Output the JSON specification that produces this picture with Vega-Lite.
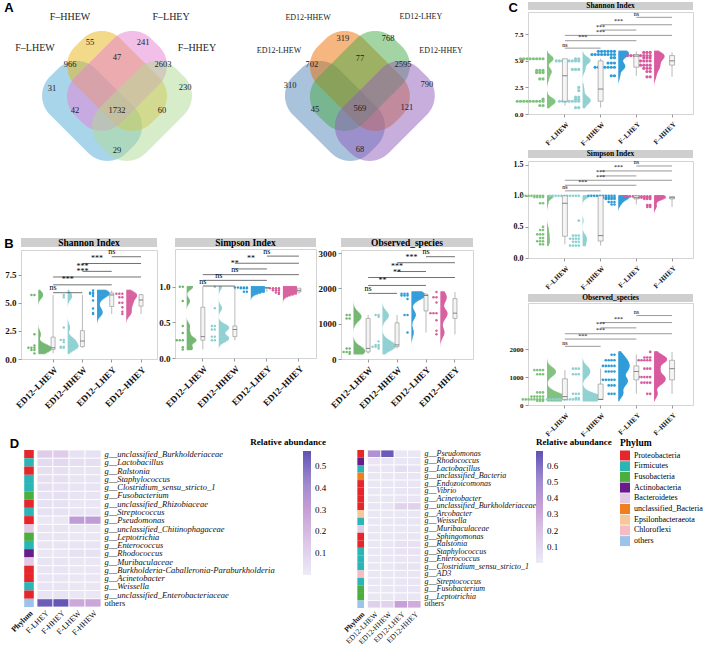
{
  "$schema": "https://vega.github.io/schema/vega-lite/v6.json",
  "background": "white",
  "padding": {"left": 4, "top": 2, "right": 2, "bottom": 0},
  "config": {
    "font": "Liberation Serif",
    "view": {"stroke": "#d4d4d4"},
    "axis": {"labelFont": "Liberation Serif", "labelFontWeight": "bold", "labelColor": "#111", "grid": false, "domain": false, "tickColor": "#999", "tickSize": 3, "labelPadding": 2},
    "legend": {"labelFont": "Liberation Serif", "titleFont": "Liberation Serif"},
    "title": {"font": "Liberation Sans", "fontSize": 13, "fontWeight": "bold", "anchor": "start", "offset": -13, "color": "#000"},
    "text": {"font": "Liberation Serif"}
  },
  "datasets": {
    "vLs": [
      {"set": "F–LHEW", "cx": 36.3, "cy": 39.6, "lx": 12.5, "ly": 13.3},
      {"set": "F–HHEW", "cx": 46.7, "cy": 27.1, "lx": 27.1, "ly": 0.6},
      {"set": "F–LHEY", "cx": 46.7, "cy": 27.1, "lx": 69.2, "ly": 0.6},
      {"set": "F–HHEY", "cx": 57.1, "cy": 39.6, "lx": 80.0, "ly": 13.3}
    ],
    "vLn": [
      {"n": 55, "x": 35.4, "y": 10.8}, {"n": 241, "x": 57.5, "y": 10.8}, {"n": 966, "x": 27.1, "y": 20},
      {"n": 47, "x": 46.7, "y": 17.1}, {"n": 2603, "x": 65.8, "y": 20}, {"n": 31, "x": 19.6, "y": 30},
      {"n": 230, "x": 75, "y": 29.6}, {"n": 42, "x": 29.2, "y": 39.2}, {"n": 1732, "x": 46.7, "y": 39.2},
      {"n": 60, "x": 65.4, "y": 39.2}, {"n": 29, "x": 46.7, "y": 55.8}
    ],
    "vRs": [
      {"set": "ED12-LHEW", "cx": 35.4, "cy": 39.6, "lx": 12.1, "ly": 14.6},
      {"set": "ED12-HHEW", "cx": 45.8, "cy": 27.1, "lx": 24.2, "ly": 0.8},
      {"set": "ED12-LHEY", "cx": 45.8, "cy": 27.1, "lx": 71.2, "ly": 0.6},
      {"set": "ED12-HHEY", "cx": 56.2, "cy": 39.6, "lx": 79.6, "ly": 14.6}
    ],
    "vRn": [
      {"n": 319, "x": 38.7, "y": 9.2}, {"n": 768, "x": 57.5, "y": 9.2}, {"n": 702, "x": 25.8, "y": 20},
      {"n": 77, "x": 45.8, "y": 17.5}, {"n": 2595, "x": 63.7, "y": 20}, {"n": 310, "x": 16.7, "y": 28.7},
      {"n": 790, "x": 73.7, "y": 28.3}, {"n": 45, "x": 27.1, "y": 38.7}, {"n": 569, "x": 45.8, "y": 38.3},
      {"n": 121, "x": 65.4, "y": 37.9}, {"n": 68, "x": 45.8, "y": 55.4}
    ],
    "br": [
      {"m": "BSh", "a": "LHEW", "b": "HHEW", "s": 1, "y": 5.9, "l": "ns"},
      {"m": "BSh", "a": "LHEW", "b": "LHEY", "s": 2, "y": 6.6, "l": "***"},
      {"m": "BSh", "a": "LHEW", "b": "HHEY", "s": 3, "y": 7.3, "l": "***"},
      {"m": "BSh", "a": "HHEW", "b": "LHEY", "s": 1, "y": 7.8, "l": "***"},
      {"m": "BSh", "a": "HHEW", "b": "HHEY", "s": 2, "y": 8.5, "l": "***"},
      {"m": "BSh", "a": "LHEY", "b": "HHEY", "s": 1, "y": 9.1, "l": "ns"},
      {"m": "BSi", "a": "LHEW", "b": "HHEW", "s": 1, "y": 1.01, "l": "ns"},
      {"m": "BSi", "a": "LHEW", "b": "LHEY", "s": 2, "y": 1.09, "l": "ns"},
      {"m": "BSi", "a": "LHEW", "b": "HHEY", "s": 3, "y": 1.17, "l": "ns"},
      {"m": "BSi", "a": "HHEW", "b": "LHEY", "s": 1, "y": 1.25, "l": "**"},
      {"m": "BSi", "a": "HHEW", "b": "HHEY", "s": 2, "y": 1.33, "l": "**"},
      {"m": "BSi", "a": "LHEY", "b": "HHEY", "s": 1, "y": 1.43, "l": "ns"},
      {"m": "BOb", "a": "LHEW", "b": "HHEW", "s": 1, "y": 1860, "l": "ns"},
      {"m": "BOb", "a": "LHEW", "b": "LHEY", "s": 2, "y": 2085, "l": "**"},
      {"m": "BOb", "a": "LHEW", "b": "HHEY", "s": 3, "y": 2310, "l": "**"},
      {"m": "BOb", "a": "HHEW", "b": "LHEY", "s": 1, "y": 2480, "l": "***"},
      {"m": "BOb", "a": "HHEW", "b": "HHEY", "s": 2, "y": 2730, "l": "***"},
      {"m": "BOb", "a": "LHEY", "b": "HHEY", "s": 1, "y": 2900, "l": "ns"},
      {"m": "CSh", "a": "LHEW", "b": "HHEW", "s": 1, "y": 6.2, "l": "ns"},
      {"m": "CSh", "a": "LHEW", "b": "LHEY", "s": 2, "y": 6.9, "l": "***"},
      {"m": "CSh", "a": "LHEW", "b": "HHEY", "s": 3, "y": 7.4, "l": "***"},
      {"m": "CSh", "a": "HHEW", "b": "LHEY", "s": 1, "y": 7.9, "l": "***"},
      {"m": "CSh", "a": "HHEW", "b": "HHEY", "s": 2, "y": 8.4, "l": "***"},
      {"m": "CSh", "a": "LHEY", "b": "HHEY", "s": 1, "y": 9.1, "l": "ns"},
      {"m": "CSi", "a": "LHEW", "b": "HHEW", "s": 1, "y": 1.08, "l": "ns"},
      {"m": "CSi", "a": "LHEW", "b": "LHEY", "s": 2, "y": 1.17, "l": "***"},
      {"m": "CSi", "a": "LHEW", "b": "HHEY", "s": 3, "y": 1.25, "l": "***"},
      {"m": "CSi", "a": "HHEW", "b": "LHEY", "s": 1, "y": 1.32, "l": "***"},
      {"m": "CSi", "a": "HHEW", "b": "HHEY", "s": 2, "y": 1.4, "l": "***"},
      {"m": "CSi", "a": "LHEY", "b": "HHEY", "s": 1, "y": 1.48, "l": "ns"},
      {"m": "COb", "a": "LHEW", "b": "HHEW", "s": 1, "y": 2100, "l": "ns"},
      {"m": "COb", "a": "LHEW", "b": "LHEY", "s": 2, "y": 2360, "l": "***"},
      {"m": "COb", "a": "LHEW", "b": "HHEY", "s": 3, "y": 2550, "l": "***"},
      {"m": "COb", "a": "HHEW", "b": "LHEY", "s": 1, "y": 2760, "l": "***"},
      {"m": "COb", "a": "HHEW", "b": "HHEY", "s": 2, "y": 2950, "l": "***"},
      {"m": "COb", "a": "LHEY", "b": "HHEY", "s": 1, "y": 3200, "l": "ns"}
    ],
    "rc": [
      {"m":"BSh","g":"LHEW","v":5.7},{"m":"BSh","g":"LHEW","v":5.7},{"m":"BSh","g":"LHEW","v":2.2},{"m":"BSh","g":"LHEW","v":1.2},{"m":"BSh","g":"LHEW","v":1.0},{"m":"BSh","g":"LHEW","v":1.0},{"m":"BSh","g":"LHEW","v":1.0},{"m":"BSh","g":"LHEW","v":0.8},{"m":"BSh","g":"LHEW","v":0.8},{"m":"BSh","g":"LHEW","v":0.5},
      {"m":"BSh","g":"HHEW","v":5.7},{"m":"BSh","g":"HHEW","v":5.5},{"m":"BSh","g":"HHEW","v":2.8},{"m":"BSh","g":"HHEW","v":1.7},{"m":"BSh","g":"HHEW","v":1.7},{"m":"BSh","g":"HHEW","v":1.5},{"m":"BSh","g":"HHEW","v":1.1},{"m":"BSh","g":"HHEW","v":1.1},{"m":"BSh","g":"HHEW","v":1.0},{"m":"BSh","g":"HHEW","v":1.0},
      {"m":"BSh","g":"LHEY","v":6.1},{"m":"BSh","g":"LHEY","v":5.9},{"m":"BSh","g":"LHEY","v":5.9},{"m":"BSh","g":"LHEY","v":5.8},{"m":"BSh","g":"LHEY","v":5.8},{"m":"BSh","g":"LHEY","v":5.6},{"m":"BSh","g":"LHEY","v":5.2},{"m":"BSh","g":"LHEY","v":4.5},{"m":"BSh","g":"LHEY","v":4.1},{"m":"BSh","g":"LHEY","v":4.0},
      {"m":"BSh","g":"HHEY","v":5.8},{"m":"BSh","g":"HHEY","v":5.8},{"m":"BSh","g":"HHEY","v":5.8},{"m":"BSh","g":"HHEY","v":5.5},{"m":"BSh","g":"HHEY","v":5.5},{"m":"BSh","g":"HHEY","v":5.0},{"m":"BSh","g":"HHEY","v":5.0},{"m":"BSh","g":"HHEY","v":4.6},{"m":"BSh","g":"HHEY","v":4.2},{"m":"BSh","g":"HHEY","v":4.0},
      {"m":"BSi","g":"LHEW","v":1.0},{"m":"BSi","g":"LHEW","v":1.0},{"m":"BSi","g":"LHEW","v":0.8},{"m":"BSi","g":"LHEW","v":0.45},{"m":"BSi","g":"LHEW","v":0.35},{"m":"BSi","g":"LHEW","v":0.25},{"m":"BSi","g":"LHEW","v":0.25},{"m":"BSi","g":"LHEW","v":0.25},{"m":"BSi","g":"LHEW","v":0.15},{"m":"BSi","g":"LHEW","v":0.12},
      {"m":"BSi","g":"HHEW","v":1.0},{"m":"BSi","g":"HHEW","v":0.7},{"m":"BSi","g":"HHEW","v":0.45},{"m":"BSi","g":"HHEW","v":0.45},{"m":"BSi","g":"HHEW","v":0.4},{"m":"BSi","g":"HHEW","v":0.4},{"m":"BSi","g":"HHEW","v":0.3},{"m":"BSi","g":"HHEW","v":0.3},{"m":"BSi","g":"HHEW","v":0.25},{"m":"BSi","g":"HHEW","v":0.25},
      {"m":"BSi","g":"LHEY","v":0.99},{"m":"BSi","g":"LHEY","v":0.99},{"m":"BSi","g":"LHEY","v":0.99},{"m":"BSi","g":"LHEY","v":0.99},{"m":"BSi","g":"LHEY","v":0.99},{"m":"BSi","g":"LHEY","v":0.98},{"m":"BSi","g":"LHEY","v":0.98},{"m":"BSi","g":"LHEY","v":0.98},{"m":"BSi","g":"LHEY","v":0.93},{"m":"BSi","g":"LHEY","v":0.93},
      {"m":"BSi","g":"HHEY","v":0.98},{"m":"BSi","g":"HHEY","v":0.98},{"m":"BSi","g":"HHEY","v":0.98},{"m":"BSi","g":"HHEY","v":0.98},{"m":"BSi","g":"HHEY","v":0.95},{"m":"BSi","g":"HHEY","v":0.95},{"m":"BSi","g":"HHEY","v":0.95},{"m":"BSi","g":"HHEY","v":0.92},{"m":"BSi","g":"HHEY","v":0.92},{"m":"BSi","g":"HHEY","v":0.9},
      {"m":"BOb","g":"LHEW","v":1250},{"m":"BOb","g":"LHEW","v":1250},{"m":"BOb","g":"LHEW","v":1150},{"m":"BOb","g":"LHEW","v":1150},{"m":"BOb","g":"LHEW","v":300},{"m":"BOb","g":"LHEW","v":300},{"m":"BOb","g":"LHEW","v":200},{"m":"BOb","g":"LHEW","v":200},{"m":"BOb","g":"LHEW","v":200},{"m":"BOb","g":"LHEW","v":150},
      {"m":"BOb","g":"HHEW","v":1250},{"m":"BOb","g":"HHEW","v":1250},{"m":"BOb","g":"HHEW","v":1200},{"m":"BOb","g":"HHEW","v":500},{"m":"BOb","g":"HHEW","v":400},{"m":"BOb","g":"HHEW","v":400},{"m":"BOb","g":"HHEW","v":350},{"m":"BOb","g":"HHEW","v":350},{"m":"BOb","g":"HHEW","v":350},{"m":"BOb","g":"HHEW","v":300},
      {"m":"BOb","g":"LHEY","v":1850},{"m":"BOb","g":"LHEY","v":1850},{"m":"BOb","g":"LHEY","v":1850},{"m":"BOb","g":"LHEY","v":1800},{"m":"BOb","g":"LHEY","v":1800},{"m":"BOb","g":"LHEY","v":1800},{"m":"BOb","g":"LHEY","v":1700},{"m":"BOb","g":"LHEY","v":1250},{"m":"BOb","g":"LHEY","v":1250},{"m":"BOb","g":"LHEY","v":750},
      {"m":"BOb","g":"HHEY","v":1900},{"m":"BOb","g":"HHEY","v":1750},{"m":"BOb","g":"HHEY","v":1750},{"m":"BOb","g":"HHEY","v":1600},{"m":"BOb","g":"HHEY","v":1300},{"m":"BOb","g":"HHEY","v":1300},{"m":"BOb","g":"HHEY","v":1300},{"m":"BOb","g":"HHEY","v":1100},{"m":"BOb","g":"HHEY","v":800},{"m":"BOb","g":"HHEY","v":700},
      {"m":"CSh","g":"LHEW","v":5.2},{"m":"CSh","g":"LHEW","v":5.2},{"m":"CSh","g":"LHEW","v":5.2},{"m":"CSh","g":"LHEW","v":5.2},{"m":"CSh","g":"LHEW","v":5.2},{"m":"CSh","g":"LHEW","v":5.2},{"m":"CSh","g":"LHEW","v":5.2},{"m":"CSh","g":"LHEW","v":5.2},
      {"m":"CSh","g":"LHEW","v":4.1},{"m":"CSh","g":"LHEW","v":4.1},{"m":"CSh","g":"LHEW","v":4.1},{"m":"CSh","g":"LHEW","v":3.9},{"m":"CSh","g":"LHEW","v":3.9},{"m":"CSh","g":"LHEW","v":3.9},{"m":"CSh","g":"LHEW","v":3.3},{"m":"CSh","g":"LHEW","v":3.3},{"m":"CSh","g":"LHEW","v":1.4},
      {"m":"CSh","g":"LHEW","v":1.2},{"m":"CSh","g":"LHEW","v":1.2},{"m":"CSh","g":"LHEW","v":1.2},{"m":"CSh","g":"LHEW","v":1.2},{"m":"CSh","g":"LHEW","v":1.2},{"m":"CSh","g":"LHEW","v":1.2},{"m":"CSh","g":"LHEW","v":1.2},{"m":"CSh","g":"LHEW","v":1.2},{"m":"CSh","g":"LHEW","v":1.2},{"m":"CSh","g":"LHEW","v":0.8},{"m":"CSh","g":"LHEW","v":0.8},
      {"m":"CSh","g":"HHEW","v":5.2},{"m":"CSh","g":"HHEW","v":5.2},{"m":"CSh","g":"HHEW","v":5.0},{"m":"CSh","g":"HHEW","v":5.0},{"m":"CSh","g":"HHEW","v":5.0},{"m":"CSh","g":"HHEW","v":5.0},{"m":"CSh","g":"HHEW","v":5.0},{"m":"CSh","g":"HHEW","v":5.0},{"m":"CSh","g":"HHEW","v":5.0},{"m":"CSh","g":"HHEW","v":5.0},
      {"m":"CSh","g":"HHEW","v":4.2},{"m":"CSh","g":"HHEW","v":4.2},{"m":"CSh","g":"HHEW","v":4.2},{"m":"CSh","g":"HHEW","v":2.5},{"m":"CSh","g":"HHEW","v":2.2},{"m":"CSh","g":"HHEW","v":1.6},{"m":"CSh","g":"HHEW","v":1.6},{"m":"CSh","g":"HHEW","v":1.4},{"m":"CSh","g":"HHEW","v":1.4},
      {"m":"CSh","g":"HHEW","v":1.2},{"m":"CSh","g":"HHEW","v":1.2},{"m":"CSh","g":"HHEW","v":1.2},{"m":"CSh","g":"HHEW","v":1.2},{"m":"CSh","g":"HHEW","v":1.2},{"m":"CSh","g":"HHEW","v":1.2},{"m":"CSh","g":"HHEW","v":1.2},{"m":"CSh","g":"HHEW","v":0.6},{"m":"CSh","g":"HHEW","v":0.6},
      {"m":"CSh","g":"LHEY","v":5.9},{"m":"CSh","g":"LHEY","v":5.9},{"m":"CSh","g":"LHEY","v":5.9},{"m":"CSh","g":"LHEY","v":5.9},{"m":"CSh","g":"LHEY","v":5.9},{"m":"CSh","g":"LHEY","v":5.9},
      {"m":"CSh","g":"LHEY","v":5.6},{"m":"CSh","g":"LHEY","v":5.6},{"m":"CSh","g":"LHEY","v":5.6},{"m":"CSh","g":"LHEY","v":5.6},{"m":"CSh","g":"LHEY","v":5.6},{"m":"CSh","g":"LHEY","v":5.6},{"m":"CSh","g":"LHEY","v":5.6},{"m":"CSh","g":"LHEY","v":5.6},
      {"m":"CSh","g":"LHEY","v":5.3},{"m":"CSh","g":"LHEY","v":5.3},{"m":"CSh","g":"LHEY","v":4.8},{"m":"CSh","g":"LHEY","v":4.8},{"m":"CSh","g":"LHEY","v":4.8},
      {"m":"CSh","g":"LHEY","v":4.4},{"m":"CSh","g":"LHEY","v":4.4},{"m":"CSh","g":"LHEY","v":4.4},{"m":"CSh","g":"LHEY","v":4.4},{"m":"CSh","g":"LHEY","v":4.4},{"m":"CSh","g":"LHEY","v":4.4},{"m":"CSh","g":"LHEY","v":4.4},{"m":"CSh","g":"LHEY","v":3.6},{"m":"CSh","g":"LHEY","v":3.6},
      {"m":"CSh","g":"HHEY","v":5.8},{"m":"CSh","g":"HHEY","v":5.8},{"m":"CSh","g":"HHEY","v":5.8},{"m":"CSh","g":"HHEY","v":5.5},{"m":"CSh","g":"HHEY","v":5.5},{"m":"CSh","g":"HHEY","v":5.5},{"m":"CSh","g":"HHEY","v":5.5},{"m":"CSh","g":"HHEY","v":5.5},{"m":"CSh","g":"HHEY","v":5.5},{"m":"CSh","g":"HHEY","v":5.5},{"m":"CSh","g":"HHEY","v":5.5},
      {"m":"CSh","g":"HHEY","v":5.3},{"m":"CSh","g":"HHEY","v":5.3},{"m":"CSh","g":"HHEY","v":5.3},{"m":"CSh","g":"HHEY","v":5.0},{"m":"CSh","g":"HHEY","v":5.0},{"m":"CSh","g":"HHEY","v":5.0},{"m":"CSh","g":"HHEY","v":5.0},
      {"m":"CSh","g":"HHEY","v":4.6},{"m":"CSh","g":"HHEY","v":4.6},{"m":"CSh","g":"HHEY","v":4.6},{"m":"CSh","g":"HHEY","v":4.6},{"m":"CSh","g":"HHEY","v":4.3},{"m":"CSh","g":"HHEY","v":4.3},{"m":"CSh","g":"HHEY","v":4.3},{"m":"CSh","g":"HHEY","v":4.0},{"m":"CSh","g":"HHEY","v":4.0},{"m":"CSh","g":"HHEY","v":3.5},{"m":"CSh","g":"HHEY","v":3.5},
      {"m":"CSi","g":"LHEW","v":1.0},{"m":"CSi","g":"LHEW","v":1.0},{"m":"CSi","g":"LHEW","v":1.0},{"m":"CSi","g":"LHEW","v":1.0},{"m":"CSi","g":"LHEW","v":1.0},{"m":"CSi","g":"LHEW","v":1.0},{"m":"CSi","g":"LHEW","v":1.0},{"m":"CSi","g":"LHEW","v":1.0},
      {"m":"CSi","g":"LHEW","v":0.98},{"m":"CSi","g":"LHEW","v":0.98},{"m":"CSi","g":"LHEW","v":0.98},{"m":"CSi","g":"LHEW","v":0.98},{"m":"CSi","g":"LHEW","v":0.88},{"m":"CSi","g":"LHEW","v":0.88},{"m":"CSi","g":"LHEW","v":0.5},{"m":"CSi","g":"LHEW","v":0.45},{"m":"CSi","g":"LHEW","v":0.45},
      {"m":"CSi","g":"LHEW","v":0.38},{"m":"CSi","g":"LHEW","v":0.38},{"m":"CSi","g":"LHEW","v":0.38},{"m":"CSi","g":"LHEW","v":0.32},{"m":"CSi","g":"LHEW","v":0.32},{"m":"CSi","g":"LHEW","v":0.27},{"m":"CSi","g":"LHEW","v":0.27},{"m":"CSi","g":"LHEW","v":0.27},{"m":"CSi","g":"LHEW","v":0.22},{"m":"CSi","g":"LHEW","v":0.22},
      {"m":"CSi","g":"HHEW","v":1.0},{"m":"CSi","g":"HHEW","v":1.0},{"m":"CSi","g":"HHEW","v":1.0},{"m":"CSi","g":"HHEW","v":1.0},{"m":"CSi","g":"HHEW","v":1.0},{"m":"CSi","g":"HHEW","v":1.0},{"m":"CSi","g":"HHEW","v":1.0},{"m":"CSi","g":"HHEW","v":1.0},{"m":"CSi","g":"HHEW","v":1.0},{"m":"CSi","g":"HHEW","v":1.0},{"m":"CSi","g":"HHEW","v":1.0},
      {"m":"CSi","g":"HHEW","v":0.6},{"m":"CSi","g":"HHEW","v":0.36},{"m":"CSi","g":"HHEW","v":0.36},{"m":"CSi","g":"HHEW","v":0.36},{"m":"CSi","g":"HHEW","v":0.31},{"m":"CSi","g":"HHEW","v":0.31},{"m":"CSi","g":"HHEW","v":0.31},{"m":"CSi","g":"HHEW","v":0.31},
      {"m":"CSi","g":"HHEW","v":0.26},{"m":"CSi","g":"HHEW","v":0.26},{"m":"CSi","g":"HHEW","v":0.26},{"m":"CSi","g":"HHEW","v":0.2},{"m":"CSi","g":"HHEW","v":0.2},{"m":"CSi","g":"HHEW","v":0.2},{"m":"CSi","g":"HHEW","v":0.2},
      {"m":"CSi","g":"LHEY","v":1.0},{"m":"CSi","g":"LHEY","v":1.0},{"m":"CSi","g":"LHEY","v":1.0},{"m":"CSi","g":"LHEY","v":1.0},{"m":"CSi","g":"LHEY","v":1.0},{"m":"CSi","g":"LHEY","v":1.0},{"m":"CSi","g":"LHEY","v":1.0},{"m":"CSi","g":"LHEY","v":1.0},{"m":"CSi","g":"LHEY","v":1.0},{"m":"CSi","g":"LHEY","v":1.0},
      {"m":"CSi","g":"LHEY","v":0.97},{"m":"CSi","g":"LHEY","v":0.97},{"m":"CSi","g":"LHEY","v":0.97},{"m":"CSi","g":"LHEY","v":0.97},{"m":"CSi","g":"LHEY","v":0.97},{"m":"CSi","g":"LHEY","v":0.97},
      {"m":"CSi","g":"LHEY","v":0.95},{"m":"CSi","g":"LHEY","v":0.95},{"m":"CSi","g":"LHEY","v":0.95},{"m":"CSi","g":"LHEY","v":0.95},{"m":"CSi","g":"LHEY","v":0.9},{"m":"CSi","g":"LHEY","v":0.9},{"m":"CSi","g":"LHEY","v":0.9},{"m":"CSi","g":"LHEY","v":0.86},{"m":"CSi","g":"LHEY","v":0.86},
      {"m":"CSi","g":"HHEY","v":0.99},{"m":"CSi","g":"HHEY","v":0.99},{"m":"CSi","g":"HHEY","v":0.99},{"m":"CSi","g":"HHEY","v":0.99},{"m":"CSi","g":"HHEY","v":0.99},{"m":"CSi","g":"HHEY","v":0.99},{"m":"CSi","g":"HHEY","v":0.99},{"m":"CSi","g":"HHEY","v":0.99},{"m":"CSi","g":"HHEY","v":0.99},{"m":"CSi","g":"HHEY","v":0.99},
      {"m":"CSi","g":"HHEY","v":0.97},{"m":"CSi","g":"HHEY","v":0.97},{"m":"CSi","g":"HHEY","v":0.97},{"m":"CSi","g":"HHEY","v":0.97},{"m":"CSi","g":"HHEY","v":0.97},{"m":"CSi","g":"HHEY","v":0.97},
      {"m":"CSi","g":"HHEY","v":0.95},{"m":"CSi","g":"HHEY","v":0.95},{"m":"CSi","g":"HHEY","v":0.95},{"m":"CSi","g":"HHEY","v":0.85},{"m":"CSi","g":"HHEY","v":0.85},{"m":"CSi","g":"HHEY","v":0.82},{"m":"CSi","g":"HHEY","v":0.82},
      {"m":"COb","g":"LHEW","v":1250},{"m":"COb","g":"LHEW","v":1250},{"m":"COb","g":"LHEW","v":1250},{"m":"COb","g":"LHEW","v":1250},{"m":"COb","g":"LHEW","v":1100},{"m":"COb","g":"LHEW","v":1100},{"m":"COb","g":"LHEW","v":1100},
      {"m":"COb","g":"LHEW","v":450},{"m":"COb","g":"LHEW","v":450},{"m":"COb","g":"LHEW","v":450},{"m":"COb","g":"LHEW","v":300},{"m":"COb","g":"LHEW","v":300},{"m":"COb","g":"LHEW","v":300},{"m":"COb","g":"LHEW","v":300},{"m":"COb","g":"LHEW","v":300},
      {"m":"COb","g":"LHEW","v":200},{"m":"COb","g":"LHEW","v":200},{"m":"COb","g":"LHEW","v":200},{"m":"COb","g":"LHEW","v":200},{"m":"COb","g":"LHEW","v":200},{"m":"COb","g":"LHEW","v":200},{"m":"COb","g":"LHEW","v":200},{"m":"COb","g":"LHEW","v":200},{"m":"COb","g":"LHEW","v":150},{"m":"COb","g":"LHEW","v":150},{"m":"COb","g":"LHEW","v":150},
      {"m":"COb","g":"HHEW","v":1300},{"m":"COb","g":"HHEW","v":1300},{"m":"COb","g":"HHEW","v":1300},{"m":"COb","g":"HHEW","v":1100},{"m":"COb","g":"HHEW","v":1100},{"m":"COb","g":"HHEW","v":1100},{"m":"COb","g":"HHEW","v":400},{"m":"COb","g":"HHEW","v":400},{"m":"COb","g":"HHEW","v":400},{"m":"COb","g":"HHEW","v":250},{"m":"COb","g":"HHEW","v":250},
      {"m":"COb","g":"HHEW","v":200},{"m":"COb","g":"HHEW","v":200},{"m":"COb","g":"HHEW","v":200},{"m":"COb","g":"HHEW","v":200},{"m":"COb","g":"HHEW","v":200},{"m":"COb","g":"HHEW","v":200},{"m":"COb","g":"HHEW","v":200},{"m":"COb","g":"HHEW","v":200},{"m":"COb","g":"HHEW","v":200},{"m":"COb","g":"HHEW","v":200},{"m":"COb","g":"HHEW","v":200},{"m":"COb","g":"HHEW","v":200},
      {"m":"COb","g":"LHEY","v":1800},{"m":"COb","g":"LHEY","v":1800},{"m":"COb","g":"LHEY","v":1600},{"m":"COb","g":"LHEY","v":1600},{"m":"COb","g":"LHEY","v":1600},{"m":"COb","g":"LHEY","v":1600},
      {"m":"COb","g":"LHEY","v":1400},{"m":"COb","g":"LHEY","v":1400},{"m":"COb","g":"LHEY","v":1400},{"m":"COb","g":"LHEY","v":1400},{"m":"COb","g":"LHEY","v":1400},{"m":"COb","g":"LHEY","v":1200},{"m":"COb","g":"LHEY","v":1200},{"m":"COb","g":"LHEY","v":1200},{"m":"COb","g":"LHEY","v":1200},
      {"m":"COb","g":"LHEY","v":900},{"m":"COb","g":"LHEY","v":900},{"m":"COb","g":"LHEY","v":900},{"m":"COb","g":"LHEY","v":900},{"m":"COb","g":"LHEY","v":900},{"m":"COb","g":"LHEY","v":700},{"m":"COb","g":"LHEY","v":700},{"m":"COb","g":"LHEY","v":700},{"m":"COb","g":"LHEY","v":400},{"m":"COb","g":"LHEY","v":400},{"m":"COb","g":"LHEY","v":400},
      {"m":"COb","g":"HHEY","v":1900},{"m":"COb","g":"HHEY","v":1700},{"m":"COb","g":"HHEY","v":1700},{"m":"COb","g":"HHEY","v":1700},{"m":"COb","g":"HHEY","v":1600},{"m":"COb","g":"HHEY","v":1600},{"m":"COb","g":"HHEY","v":1600},{"m":"COb","g":"HHEY","v":1600},{"m":"COb","g":"HHEY","v":1600},
      {"m":"COb","g":"HHEY","v":1300},{"m":"COb","g":"HHEY","v":1300},{"m":"COb","g":"HHEY","v":1300},{"m":"COb","g":"HHEY","v":1000},{"m":"COb","g":"HHEY","v":1000},{"m":"COb","g":"HHEY","v":1000},{"m":"COb","g":"HHEY","v":1000},{"m":"COb","g":"HHEY","v":1000},
      {"m":"COb","g":"HHEY","v":800},{"m":"COb","g":"HHEY","v":800},{"m":"COb","g":"HHEY","v":800},{"m":"COb","g":"HHEY","v":800},{"m":"COb","g":"HHEY","v":400},{"m":"COb","g":"HHEY","v":400}
    ],
    "hl": [
      {"t":"g__unclassified_Burkholderiaceae","s":"F-LHEY","a":0.13},{"t":"g__unclassified_Burkholderiaceae","s":"F-HHEY","a":0.13},{"t":"g__unclassified_Burkholderiaceae","s":"F-LHEW","a":0.04},{"t":"g__unclassified_Burkholderiaceae","s":"F-HHEW","a":0.04},
      {"t":"g__Lactobacillus","s":"F-LHEY","a":0.07},{"t":"g__Lactobacillus","s":"F-HHEY","a":0.08},{"t":"g__Lactobacillus","s":"F-LHEW","a":0.05},{"t":"g__Lactobacillus","s":"F-HHEW","a":0.05},
      {"t":"g__Ralstonia","s":"F-LHEY","a":0.05},{"t":"g__Ralstonia","s":"F-HHEY","a":0.05},{"t":"g__Ralstonia","s":"F-LHEW","a":0.03},{"t":"g__Ralstonia","s":"F-HHEW","a":0.03},
      {"t":"g__Staphylococcus","s":"F-LHEY","a":0.05},{"t":"g__Staphylococcus","s":"F-HHEY","a":0.05},{"t":"g__Staphylococcus","s":"F-LHEW","a":0.03},{"t":"g__Staphylococcus","s":"F-HHEW","a":0.03},
      {"t":"g__Clostridium_sensu_stricto_1","s":"F-LHEY","a":0.05},{"t":"g__Clostridium_sensu_stricto_1","s":"F-HHEY","a":0.04},{"t":"g__Clostridium_sensu_stricto_1","s":"F-LHEW","a":0.03},{"t":"g__Clostridium_sensu_stricto_1","s":"F-HHEW","a":0.03},
      {"t":"g__Fusobacterium","s":"F-LHEY","a":0.04},{"t":"g__Fusobacterium","s":"F-HHEY","a":0.05},{"t":"g__Fusobacterium","s":"F-LHEW","a":0.03},{"t":"g__Fusobacterium","s":"F-HHEW","a":0.03},
      {"t":"g__unclassified_Rhizobiaceae","s":"F-LHEY","a":0.04},{"t":"g__unclassified_Rhizobiaceae","s":"F-HHEY","a":0.04},{"t":"g__unclassified_Rhizobiaceae","s":"F-LHEW","a":0.02},{"t":"g__unclassified_Rhizobiaceae","s":"F-HHEW","a":0.02},
      {"t":"g__Streptococcus","s":"F-LHEY","a":0.04},{"t":"g__Streptococcus","s":"F-HHEY","a":0.04},{"t":"g__Streptococcus","s":"F-LHEW","a":0.03},{"t":"g__Streptococcus","s":"F-HHEW","a":0.03},
      {"t":"g__Pseudomonas","s":"F-LHEY","a":0.02},{"t":"g__Pseudomonas","s":"F-HHEY","a":0.02},{"t":"g__Pseudomonas","s":"F-LHEW","a":0.32},{"t":"g__Pseudomonas","s":"F-HHEW","a":0.32},
      {"t":"g__unclassified_Chitinophagaceae","s":"F-LHEY","a":0.03},{"t":"g__unclassified_Chitinophagaceae","s":"F-HHEY","a":0.03},{"t":"g__unclassified_Chitinophagaceae","s":"F-LHEW","a":0.02},{"t":"g__unclassified_Chitinophagaceae","s":"F-HHEW","a":0.02},
      {"t":"g__Leptotrichia","s":"F-LHEY","a":0.03},{"t":"g__Leptotrichia","s":"F-HHEY","a":0.03},{"t":"g__Leptotrichia","s":"F-LHEW","a":0.02},{"t":"g__Leptotrichia","s":"F-HHEW","a":0.02},
      {"t":"g__Enterococcus","s":"F-LHEY","a":0.03},{"t":"g__Enterococcus","s":"F-HHEY","a":0.03},{"t":"g__Enterococcus","s":"F-LHEW","a":0.03},{"t":"g__Enterococcus","s":"F-HHEW","a":0.03},
      {"t":"g__Rhodococcus","s":"F-LHEY","a":0.02},{"t":"g__Rhodococcus","s":"F-HHEY","a":0.02},{"t":"g__Rhodococcus","s":"F-LHEW","a":0.04},{"t":"g__Rhodococcus","s":"F-HHEW","a":0.04},
      {"t":"g__Muribaculaceae","s":"F-LHEY","a":0.03},{"t":"g__Muribaculaceae","s":"F-HHEY","a":0.03},{"t":"g__Muribaculaceae","s":"F-LHEW","a":0.02},{"t":"g__Muribaculaceae","s":"F-HHEW","a":0.02},
      {"t":"g__Burkholderia-Caballeronia-Paraburkholderia","s":"F-LHEY","a":0.03},{"t":"g__Burkholderia-Caballeronia-Paraburkholderia","s":"F-HHEY","a":0.03},{"t":"g__Burkholderia-Caballeronia-Paraburkholderia","s":"F-LHEW","a":0.02},{"t":"g__Burkholderia-Caballeronia-Paraburkholderia","s":"F-HHEW","a":0.02},
      {"t":"g__Acinetobacter","s":"F-LHEY","a":0.03},{"t":"g__Acinetobacter","s":"F-HHEY","a":0.03},{"t":"g__Acinetobacter","s":"F-LHEW","a":0.02},{"t":"g__Acinetobacter","s":"F-HHEW","a":0.02},
      {"t":"g__Weissella","s":"F-LHEY","a":0.03},{"t":"g__Weissella","s":"F-HHEY","a":0.03},{"t":"g__Weissella","s":"F-LHEW","a":0.02},{"t":"g__Weissella","s":"F-HHEW","a":0.02},
      {"t":"g__unclassified_Enterobacteriaceae","s":"F-LHEY","a":0.03},{"t":"g__unclassified_Enterobacteriaceae","s":"F-HHEY","a":0.03},{"t":"g__unclassified_Enterobacteriaceae","s":"F-LHEW","a":0.02},{"t":"g__unclassified_Enterobacteriaceae","s":"F-HHEW","a":0.02},
      {"t":"others","s":"F-LHEY","a":0.54},{"t":"others","s":"F-HHEY","a":0.56},{"t":"others","s":"F-LHEW","a":0.26},{"t":"others","s":"F-HHEW","a":0.27}
    ],
    "pl": [
      {"t":"g__unclassified_Burkholderiaceae","p":"Proteobacteria"},{"t":"g__Lactobacillus","p":"Firmicutes"},{"t":"g__Ralstonia","p":"Proteobacteria"},{"t":"g__Staphylococcus","p":"Firmicutes"},
      {"t":"g__Clostridium_sensu_stricto_1","p":"Firmicutes"},{"t":"g__Fusobacterium","p":"Fusobacteria"},{"t":"g__unclassified_Rhizobiaceae","p":"Proteobacteria"},{"t":"g__Streptococcus","p":"Firmicutes"},
      {"t":"g__Pseudomonas","p":"Proteobacteria"},{"t":"g__unclassified_Chitinophagaceae","p":"Bacteroidetes"},{"t":"g__Leptotrichia","p":"Fusobacteria"},{"t":"g__Enterococcus","p":"Firmicutes"},
      {"t":"g__Rhodococcus","p":"Actinobacteria"},{"t":"g__Muribaculaceae","p":"Bacteroidetes"},{"t":"g__Burkholderia-Caballeronia-Paraburkholderia","p":"Proteobacteria"},{"t":"g__Acinetobacter","p":"Proteobacteria"},
      {"t":"g__Weissella","p":"Firmicutes"},{"t":"g__unclassified_Enterobacteriaceae","p":"Proteobacteria"},{"t":"others","p":"others"}
    ],
    "hr": [
      {"t":"g__Pseudomonas","s":"ED12-LHEW","a":0.45},{"t":"g__Pseudomonas","s":"ED12-HHEW","a":0.66},{"t":"g__Pseudomonas","s":"ED12-LHEY","a":0.02},{"t":"g__Pseudomonas","s":"ED12-HHEY","a":0.02},
      {"t":"g__Rhodococcus","s":"ED12-LHEW","a":0.03},{"t":"g__Rhodococcus","s":"ED12-HHEW","a":0.03},{"t":"g__Rhodococcus","s":"ED12-LHEY","a":0.02},{"t":"g__Rhodococcus","s":"ED12-HHEY","a":0.02},
      {"t":"g__Lactobacillus","s":"ED12-LHEW","a":0.03},{"t":"g__Lactobacillus","s":"ED12-HHEW","a":0.03},{"t":"g__Lactobacillus","s":"ED12-LHEY","a":0.07},{"t":"g__Lactobacillus","s":"ED12-HHEY","a":0.05},
      {"t":"g__unclassified_Bacteria","s":"ED12-LHEW","a":0.02},{"t":"g__unclassified_Bacteria","s":"ED12-HHEW","a":0.02},{"t":"g__unclassified_Bacteria","s":"ED12-LHEY","a":0.03},{"t":"g__unclassified_Bacteria","s":"ED12-HHEY","a":0.03},
      {"t":"g__Endozoicomonas","s":"ED12-LHEW","a":0.02},{"t":"g__Endozoicomonas","s":"ED12-HHEW","a":0.02},{"t":"g__Endozoicomonas","s":"ED12-LHEY","a":0.03},{"t":"g__Endozoicomonas","s":"ED12-HHEY","a":0.03},
      {"t":"g__Vibrio","s":"ED12-LHEW","a":0.02},{"t":"g__Vibrio","s":"ED12-HHEW","a":0.02},{"t":"g__Vibrio","s":"ED12-LHEY","a":0.03},{"t":"g__Vibrio","s":"ED12-HHEY","a":0.03},
      {"t":"g__Acinetobacter","s":"ED12-LHEW","a":0.02},{"t":"g__Acinetobacter","s":"ED12-HHEW","a":0.02},{"t":"g__Acinetobacter","s":"ED12-LHEY","a":0.03},{"t":"g__Acinetobacter","s":"ED12-HHEY","a":0.03},
      {"t":"g__unclassified_Burkholderiaceae","s":"ED12-LHEW","a":0.03},{"t":"g__unclassified_Burkholderiaceae","s":"ED12-HHEW","a":0.03},{"t":"g__unclassified_Burkholderiaceae","s":"ED12-LHEY","a":0.12},{"t":"g__unclassified_Burkholderiaceae","s":"ED12-HHEY","a":0.13},
      {"t":"g__Arcobacter","s":"ED12-LHEW","a":0.02},{"t":"g__Arcobacter","s":"ED12-HHEW","a":0.02},{"t":"g__Arcobacter","s":"ED12-LHEY","a":0.02},{"t":"g__Arcobacter","s":"ED12-HHEY","a":0.02},
      {"t":"g__Weissella","s":"ED12-LHEW","a":0.02},{"t":"g__Weissella","s":"ED12-HHEW","a":0.02},{"t":"g__Weissella","s":"ED12-LHEY","a":0.03},{"t":"g__Weissella","s":"ED12-HHEY","a":0.03},
      {"t":"g__Muribaculaceae","s":"ED12-LHEW","a":0.02},{"t":"g__Muribaculaceae","s":"ED12-HHEW","a":0.02},{"t":"g__Muribaculaceae","s":"ED12-LHEY","a":0.02},{"t":"g__Muribaculaceae","s":"ED12-HHEY","a":0.02},
      {"t":"g__Sphingomonas","s":"ED12-LHEW","a":0.02},{"t":"g__Sphingomonas","s":"ED12-HHEW","a":0.02},{"t":"g__Sphingomonas","s":"ED12-LHEY","a":0.03},{"t":"g__Sphingomonas","s":"ED12-HHEY","a":0.03},
      {"t":"g__Ralstonia","s":"ED12-LHEW","a":0.02},{"t":"g__Ralstonia","s":"ED12-HHEW","a":0.02},{"t":"g__Ralstonia","s":"ED12-LHEY","a":0.05},{"t":"g__Ralstonia","s":"ED12-HHEY","a":0.05},
      {"t":"g__Staphylococcus","s":"ED12-LHEW","a":0.02},{"t":"g__Staphylococcus","s":"ED12-HHEW","a":0.02},{"t":"g__Staphylococcus","s":"ED12-LHEY","a":0.04},{"t":"g__Staphylococcus","s":"ED12-HHEY","a":0.04},
      {"t":"g__Enterococcus","s":"ED12-LHEW","a":0.02},{"t":"g__Enterococcus","s":"ED12-HHEW","a":0.02},{"t":"g__Enterococcus","s":"ED12-LHEY","a":0.03},{"t":"g__Enterococcus","s":"ED12-HHEY","a":0.03},
      {"t":"g__Clostridium_sensu_stricto_1","s":"ED12-LHEW","a":0.02},{"t":"g__Clostridium_sensu_stricto_1","s":"ED12-HHEW","a":0.02},{"t":"g__Clostridium_sensu_stricto_1","s":"ED12-LHEY","a":0.04},{"t":"g__Clostridium_sensu_stricto_1","s":"ED12-HHEY","a":0.04},
      {"t":"g__AD3","s":"ED12-LHEW","a":0.02},{"t":"g__AD3","s":"ED12-HHEW","a":0.02},{"t":"g__AD3","s":"ED12-LHEY","a":0.03},{"t":"g__AD3","s":"ED12-HHEY","a":0.03},
      {"t":"g__Streptococcus","s":"ED12-LHEW","a":0.02},{"t":"g__Streptococcus","s":"ED12-HHEW","a":0.02},{"t":"g__Streptococcus","s":"ED12-LHEY","a":0.03},{"t":"g__Streptococcus","s":"ED12-HHEY","a":0.03},
      {"t":"g__Fusobacterium","s":"ED12-LHEW","a":0.02},{"t":"g__Fusobacterium","s":"ED12-HHEW","a":0.02},{"t":"g__Fusobacterium","s":"ED12-LHEY","a":0.03},{"t":"g__Fusobacterium","s":"ED12-HHEY","a":0.03},
      {"t":"g__Leptotrichia","s":"ED12-LHEW","a":0.02},{"t":"g__Leptotrichia","s":"ED12-HHEW","a":0.02},{"t":"g__Leptotrichia","s":"ED12-LHEY","a":0.03},{"t":"g__Leptotrichia","s":"ED12-HHEY","a":0.03},
      {"t":"others","s":"ED12-LHEW","a":0.14},{"t":"others","s":"ED12-HHEW","a":0.12},{"t":"others","s":"ED12-LHEY","a":0.36},{"t":"others","s":"ED12-HHEY","a":0.3}
    ],
    "pr": [
      {"t":"g__Pseudomonas","p":"Proteobacteria"},{"t":"g__Rhodococcus","p":"Actinobacteria"},{"t":"g__Lactobacillus","p":"Firmicutes"},{"t":"g__unclassified_Bacteria","p":"unclassified_Bacteria"},
      {"t":"g__Endozoicomonas","p":"Proteobacteria"},{"t":"g__Vibrio","p":"Proteobacteria"},{"t":"g__Acinetobacter","p":"Proteobacteria"},{"t":"g__unclassified_Burkholderiaceae","p":"Proteobacteria"},
      {"t":"g__Arcobacter","p":"Epsilonbacteraeota"},{"t":"g__Weissella","p":"Firmicutes"},{"t":"g__Muribaculaceae","p":"Bacteroidetes"},{"t":"g__Sphingomonas","p":"Proteobacteria"},
      {"t":"g__Ralstonia","p":"Proteobacteria"},{"t":"g__Staphylococcus","p":"Firmicutes"},{"t":"g__Enterococcus","p":"Firmicutes"},{"t":"g__Clostridium_sensu_stricto_1","p":"Firmicutes"},
      {"t":"g__AD3","p":"Chloroflexi"},{"t":"g__Streptococcus","p":"Firmicutes"},{"t":"g__Fusobacterium","p":"Fusobacteria"},{"t":"g__Leptotrichia","p":"Fusobacteria"},{"t":"others","p":"others"}
    ]
  },
  "columns": 1, "align": "none", "spacing": 0,
  "resolve": {"scale": {"color": "independent", "size": "independent", "xOffset": "independent"}, "legend": {"color": "independent"}},
  "concat": [
    {"align": "none", "spacing": 34,
     "resolve": {"scale": {"color": "independent", "size": "independent", "xOffset": "independent"}, "legend": {"color": "independent"}},
     "concat": [
      {"title": "A", "columns": 1, "align": "none", "spacing": 60,
       "resolve": {"scale": {"color": "independent", "size": "independent", "xOffset": "independent"}, "legend": {"color": "independent"}},
       "concat": [
        {"align": "none", "spacing": 3,
         "resolve": {"scale": {"color": "independent", "size": "independent", "xOffset": "independent"}, "legend": {"color": "independent"}},
         "concat": [
          {"width": 226, "height": 175, "view": {"stroke": null},
           "layer": [
             {"data": {"name": "vLs"}, "transform": [{"filter": "datum.set == 'F–LHEW' || datum.set == 'F–HHEW'"}],
              "mark": {"type": "point", "shape": "M-0.5,-0.6L0.5,-0.6C0.776,-0.6,1,-0.376,1,-0.1L1,0.1C1,0.376,0.776,0.6,0.5,0.6L-0.5,0.6C-0.776,0.6,-1,0.376,-1,0.1L-1,-0.1C-1,-0.376,-0.776,-0.6,-0.5,-0.6Z", "size": 11700, "angle": 45, "filled": true, "opacity": 0.5, "strokeWidth": 0},
              "encoding": {
                "x": {"field": "cx", "type": "quantitative", "scale": {"domain": [6.67, 100.83], "nice": false, "zero": false}, "axis": null},
                "y": {"field": "cy", "type": "quantitative", "scale": {"domain": [-5.83, 67.08], "nice": false, "zero": false, "reverse": true}, "axis": null},
                "color": {"field": "set", "type": "nominal", "scale": {"domain": ["F–LHEW", "F–HHEW", "F–LHEY", "F–HHEY"], "range": ["#53abd5", "#e7b315", "#e57fd3", "#afdb93"]}, "legend": null}}},
             {"data": {"name": "vLs"}, "transform": [{"filter": "datum.set == 'F–LHEY' || datum.set == 'F–HHEY'"}],
              "mark": {"type": "point", "shape": "M-0.5,-0.6L0.5,-0.6C0.776,-0.6,1,-0.376,1,-0.1L1,0.1C1,0.376,0.776,0.6,0.5,0.6L-0.5,0.6C-0.776,0.6,-1,0.376,-1,0.1L-1,-0.1C-1,-0.376,-0.776,-0.6,-0.5,-0.6Z", "size": 11700, "angle": -45, "filled": true, "opacity": 0.5, "strokeWidth": 0},
              "encoding": {
                "x": {"field": "cx", "type": "quantitative", "axis": null},
                "y": {"field": "cy", "type": "quantitative", "axis": null},
                "color": {"field": "set", "type": "nominal", "legend": null}}},
             {"data": {"name": "vLs"}, "mark": {"type": "text", "fontSize": 10, "color": "#222"},
              "encoding": {"x": {"field": "lx", "type": "quantitative", "axis": null}, "y": {"field": "ly", "type": "quantitative", "axis": null}, "text": {"field": "set"}}},
             {"data": {"name": "vLn"}, "mark": {"type": "text", "fontSize": 8.5, "color": "#222"},
              "encoding": {"x": {"field": "x", "type": "quantitative", "axis": null}, "y": {"field": "y", "type": "quantitative", "axis": null}, "text": {"field": "n"}}}
           ]},
          {"width": 215, "height": 175, "view": {"stroke": null},
           "layer": [
             {"data": {"name": "vRs"}, "transform": [{"filter": "datum.set == 'ED12-LHEW' || datum.set == 'ED12-HHEW'"}],
              "mark": {"type": "point", "shape": "M-0.5,-0.6L0.5,-0.6C0.776,-0.6,1,-0.376,1,-0.1L1,0.1C1,0.376,0.776,0.6,0.5,0.6L-0.5,0.6C-0.776,0.6,-1,0.376,-1,0.1L-1,-0.1C-1,-0.376,-0.776,-0.6,-0.5,-0.6Z", "size": 11700, "angle": 45, "filled": true, "opacity": 0.5, "strokeWidth": 0},
              "encoding": {
                "x": {"field": "cx", "type": "quantitative", "scale": {"domain": [0, 89.58], "nice": false, "zero": false}, "axis": null},
                "y": {"field": "cy", "type": "quantitative", "scale": {"domain": [-5.83, 67.08], "nice": false, "zero": false, "reverse": true}, "axis": null},
                "color": {"field": "set", "type": "nominal", "scale": {"domain": ["ED12-LHEW", "ED12-HHEW", "ED12-LHEY", "ED12-HHEY"], "range": ["#5387bb", "#eb6d00", "#47a947", "#8f5dbb"]}, "legend": null}}},
             {"data": {"name": "vRs"}, "transform": [{"filter": "datum.set == 'ED12-LHEY' || datum.set == 'ED12-HHEY'"}],
              "mark": {"type": "point", "shape": "M-0.5,-0.6L0.5,-0.6C0.776,-0.6,1,-0.376,1,-0.1L1,0.1C1,0.376,0.776,0.6,0.5,0.6L-0.5,0.6C-0.776,0.6,-1,0.376,-1,0.1L-1,-0.1C-1,-0.376,-0.776,-0.6,-0.5,-0.6Z", "size": 11700, "angle": -45, "filled": true, "opacity": 0.5, "strokeWidth": 0},
              "encoding": {
                "x": {"field": "cx", "type": "quantitative", "axis": null},
                "y": {"field": "cy", "type": "quantitative", "axis": null},
                "color": {"field": "set", "type": "nominal", "legend": null}}},
             {"data": {"name": "vRs"}, "mark": {"type": "text", "fontSize": 8, "color": "#222"},
              "encoding": {"x": {"field": "lx", "type": "quantitative", "axis": null}, "y": {"field": "ly", "type": "quantitative", "axis": null}, "text": {"field": "set"}}},
             {"data": {"name": "vRn"}, "mark": {"type": "text", "fontSize": 8.5, "color": "#222"},
              "encoding": {"x": {"field": "x", "type": "quantitative", "axis": null}, "y": {"field": "y", "type": "quantitative", "axis": null}, "text": {"field": "n"}}}
           ]}
        ]},
        {"title": "B", "align": "none", "spacing": 0,
         "resolve": {"scale": {"color": "independent", "size": "independent", "xOffset": "independent"}, "legend": {"color": "independent"}},
         "concat": [
          {"spacing": 0, "resolve": {"scale": {"color": "independent", "size": "independent", "xOffset": "independent"}}, "vconcat": [
            {"width": 136, "height": 9, "view": {"fill": "#cfcfcf", "stroke": null}, "data": {"values": [{}]},
             "mark": {"type": "text", "text": "Shannon Index", "fontSize": 9.5, "fontWeight": "bold", "baseline": "middle", "align": "center"}},
            {"width": 136, "height": 109, "data": {"name": "rc"}, "transform": [{"filter": "datum.m == 'BSh'"}],
             "encoding": {
               "x": {"field": "g", "type": "nominal", "title": null, "scale": {"domain": ["LHEW", "HHEW", "LHEY", "HHEY"], "paddingInner": 0, "paddingOuter": 0.32, "align": 0.93}, "axis": {"labelAngle": -45, "labelFontSize": 9, "labelExpr": "'ED12–' + datum.label", "labelPadding": 3}},
               "y": {"field": "v", "type": "quantitative", "title": null, "scale": {"domain": [0, 9.7], "nice": false, "zero": false}, "axis": {"values": [0, 2.5, 5, 7.5], "format": ".1f", "labelFontSize": 9}}
             },
             "layer": [
               {"transform": [{"density": "v", "groupby": ["g"], "bandwidth": 0.3, "steps": 70}],
                "mark": {"type": "tick", "thickness": 1.6, "opacity": 0.9},
                "encoding": {
                  "y": {"field": "value", "type": "quantitative", "title": null},
                  "xOffset": {"field": "density", "type": "quantitative", "scale": {"domain": [0, 0.8], "range": [0, 7], "clamp": true}},
                  "size": {"field": "density", "type": "quantitative", "scale": {"domain": [0, 0.8], "range": [0, 14], "clamp": true}, "legend": null},
                  "color": {"field": "g", "type": "nominal", "scale": {"domain": ["LHEW", "HHEW", "LHEY", "HHEY"], "range": ["#6fb56e", "#8dcfd1", "#2d9bd8", "#d65c9c"]}, "legend": null}}},
               {"transform": [{"window": [{"op": "row_number", "as": "k"}], "groupby": ["g", "v"]}],
                "mark": {"type": "circle", "size": 6, "opacity": 1},
                "encoding": {
                  "xOffset": {"field": "k", "type": "quantitative", "scale": {"domain": [1, 10], "range": [-4, -31]}},
                  "color": {"field": "g", "type": "nominal", "legend": null}}},
               {"mark": {"type": "boxplot", "extent": "min-max", "size": 4, "color": "#f4f4f4", "box": {"stroke": "#8c8c8c", "strokeWidth": 0.6}, "median": {"color": "#555555", "strokeWidth": 0.8}, "rule": {"color": "#8c8c8c", "strokeWidth": 0.6}}},
               {"data": {"name": "br"}, "transform": [{"filter": "datum.m == 'BSh'"}],
                "mark": {"type": "rule", "color": "#4d4d4d", "strokeWidth": 0.8},
                "encoding": {"x": {"field": "a", "type": "nominal", "title": null}, "x2": {"field": "b"}, "y": {"field": "y", "type": "quantitative", "title": null}}},
               {"data": {"name": "br"}, "transform": [{"filter": "datum.m == 'BSh'"}],
                "mark": {"type": "text", "baseline": "bottom", "dy": -0.5, "fontSize": 8},
                "encoding": {"x": {"field": "a", "type": "nominal", "title": null}, "xOffset": {"field": "s", "type": "quantitative", "scale": {"domain": [0, 3], "range": [0, 43.97]}}, "y": {"field": "y", "type": "quantitative", "title": null}, "text": {"field": "l"}}}
             ],
             "resolve": {"scale": {"xOffset": "independent", "size": "independent"}}}
          ]},
          {"spacing": 0, "resolve": {"scale": {"color": "independent", "size": "independent", "xOffset": "independent"}}, "vconcat": [
            {"width": 141, "height": 9, "view": {"fill": "#cfcfcf", "stroke": null}, "data": {"values": [{}]},
             "mark": {"type": "text", "text": "Simpson Index", "fontSize": 9.5, "fontWeight": "bold", "baseline": "middle", "align": "center"}},
            {"width": 141, "height": 109, "data": {"name": "rc"}, "transform": [{"filter": "datum.m == 'BSi'"}],
             "encoding": {
               "x": {"field": "g", "type": "nominal", "title": null, "scale": {"domain": ["LHEW", "HHEW", "LHEY", "HHEY"], "paddingInner": 0, "paddingOuter": 0.2, "align": 0.92}, "axis": {"labelAngle": -45, "labelFontSize": 9, "labelExpr": "'ED12–' + datum.label", "labelPadding": 3}},
               "y": {"field": "v", "type": "quantitative", "title": null, "scale": {"domain": [0, 1.53], "nice": false, "zero": false}, "axis": {"values": [0, 0.5, 1], "format": ".1f", "labelFontSize": 9}}
             },
             "layer": [
               {"transform": [{"density": "v", "groupby": ["g"], "bandwidth": 0.04, "steps": 70}],
                "mark": {"type": "tick", "thickness": 1.6, "opacity": 0.9},
                "encoding": {
                  "y": {"field": "value", "type": "quantitative", "title": null},
                  "xOffset": {"field": "density", "type": "quantitative", "scale": {"domain": [0, 4.5], "range": [0, 7], "clamp": true}},
                  "size": {"field": "density", "type": "quantitative", "scale": {"domain": [0, 4.5], "range": [0, 14], "clamp": true}, "legend": null},
                  "color": {"field": "g", "type": "nominal", "scale": {"domain": ["LHEW", "HHEW", "LHEY", "HHEY"], "range": ["#6fb56e", "#8dcfd1", "#2d9bd8", "#d65c9c"]}, "legend": null}}},
               {"transform": [{"window": [{"op": "row_number", "as": "k"}], "groupby": ["g", "v"]}],
                "mark": {"type": "circle", "size": 6, "opacity": 1},
                "encoding": {
                  "xOffset": {"field": "k", "type": "quantitative", "scale": {"domain": [1, 10], "range": [-4, -31]}},
                  "color": {"field": "g", "type": "nominal", "legend": null}}},
               {"mark": {"type": "boxplot", "extent": "min-max", "size": 4, "color": "#f4f4f4", "box": {"stroke": "#8c8c8c", "strokeWidth": 0.6}, "median": {"color": "#555555", "strokeWidth": 0.8}, "rule": {"color": "#8c8c8c", "strokeWidth": 0.6}}},
               {"data": {"name": "br"}, "transform": [{"filter": "datum.m == 'BSi'"}],
                "mark": {"type": "rule", "color": "#4d4d4d", "strokeWidth": 0.8},
                "encoding": {"x": {"field": "a", "type": "nominal", "title": null}, "x2": {"field": "b"}, "y": {"field": "y", "type": "quantitative", "title": null}}},
               {"data": {"name": "br"}, "transform": [{"filter": "datum.m == 'BSi'"}],
                "mark": {"type": "text", "baseline": "bottom", "dy": -0.5, "fontSize": 8},
                "encoding": {"x": {"field": "a", "type": "nominal", "title": null}, "xOffset": {"field": "s", "type": "quantitative", "scale": {"domain": [0, 3], "range": [0, 48.07]}}, "y": {"field": "y", "type": "quantitative", "title": null}, "text": {"field": "l"}}}
             ],
             "resolve": {"scale": {"xOffset": "independent", "size": "independent"}}}
          ]},
          {"spacing": 0, "resolve": {"scale": {"color": "independent", "size": "independent", "xOffset": "independent"}}, "vconcat": [
            {"width": 132, "height": 9, "view": {"fill": "#cfcfcf", "stroke": null}, "data": {"values": [{}]},
             "mark": {"type": "text", "text": "Observed_species", "fontSize": 9.5, "fontWeight": "bold", "baseline": "middle", "align": "center"}},
            {"width": 132, "height": 109, "data": {"name": "rc"}, "transform": [{"filter": "datum.m == 'BOb'"}],
             "encoding": {
               "x": {"field": "g", "type": "nominal", "title": null, "scale": {"domain": ["LHEW", "HHEW", "LHEY", "HHEY"], "paddingInner": 0, "paddingOuter": 0.28, "align": 0.78}, "axis": {"labelAngle": -45, "labelFontSize": 9, "labelExpr": "'ED12–' + datum.label", "labelPadding": 3}},
               "y": {"field": "v", "type": "quantitative", "title": null, "scale": {"domain": [0, 3090], "nice": false, "zero": false}, "axis": {"values": [0, 1000, 2000, 3000], "format": "d", "labelFontSize": 9}}
             },
             "layer": [
               {"transform": [{"density": "v", "groupby": ["g"], "bandwidth": 120, "steps": 70}],
                "mark": {"type": "tick", "thickness": 1.6, "opacity": 0.9},
                "encoding": {
                  "y": {"field": "value", "type": "quantitative", "title": null},
                  "xOffset": {"field": "density", "type": "quantitative", "scale": {"domain": [0, 0.0022], "range": [0, 7], "clamp": true}},
                  "size": {"field": "density", "type": "quantitative", "scale": {"domain": [0, 0.0022], "range": [0, 14], "clamp": true}, "legend": null},
                  "color": {"field": "g", "type": "nominal", "scale": {"domain": ["LHEW", "HHEW", "LHEY", "HHEY"], "range": ["#6fb56e", "#8dcfd1", "#2d9bd8", "#d65c9c"]}, "legend": null}}},
               {"transform": [{"window": [{"op": "row_number", "as": "k"}], "groupby": ["g", "v"]}],
                "mark": {"type": "circle", "size": 6, "opacity": 1},
                "encoding": {
                  "xOffset": {"field": "k", "type": "quantitative", "scale": {"domain": [1, 10], "range": [-4, -31]}},
                  "color": {"field": "g", "type": "nominal", "legend": null}}},
               {"mark": {"type": "boxplot", "extent": "min-max", "size": 4, "color": "#f4f4f4", "box": {"stroke": "#8c8c8c", "strokeWidth": 0.6}, "median": {"color": "#555555", "strokeWidth": 0.8}, "rule": {"color": "#8c8c8c", "strokeWidth": 0.6}}},
               {"data": {"name": "br"}, "transform": [{"filter": "datum.m == 'BOb'"}],
                "mark": {"type": "rule", "color": "#4d4d4d", "strokeWidth": 0.8},
                "encoding": {"x": {"field": "a", "type": "nominal", "title": null}, "x2": {"field": "b"}, "y": {"field": "y", "type": "quantitative", "title": null}}},
               {"data": {"name": "br"}, "transform": [{"filter": "datum.m == 'BOb'"}],
                "mark": {"type": "text", "baseline": "bottom", "dy": -0.5, "fontSize": 8},
                "encoding": {"x": {"field": "a", "type": "nominal", "title": null}, "xOffset": {"field": "s", "type": "quantitative", "scale": {"domain": [0, 3], "range": [0, 43.42]}}, "y": {"field": "y", "type": "quantitative", "title": null}, "text": {"field": "l"}}}
             ],
             "resolve": {"scale": {"xOffset": "independent", "size": "independent"}}}
          ]}
        ]}
      ]},
      {"title": "C", "spacing": 3,
       "resolve": {"scale": {"color": "independent", "size": "independent", "xOffset": "independent"}, "legend": {"color": "independent"}},
       "vconcat": [
        {"spacing": 0, "resolve": {"scale": {"color": "independent", "size": "independent", "xOffset": "independent"}}, "vconcat": [
          {"width": 165, "height": 8, "view": {"fill": "#cfcfcf", "stroke": null}, "data": {"values": [{}]},
           "mark": {"type": "text", "text": "Shannon Index", "fontSize": 7.5, "fontWeight": "bold", "baseline": "middle", "align": "center"}},
          {"width": 165, "height": 102, "data": {"name": "rc"}, "transform": [{"filter": "datum.m == 'CSh'"}],
           "encoding": {
             "x": {"field": "g", "type": "nominal", "title": null, "scale": {"domain": ["LHEW", "HHEW", "LHEY", "HHEY"], "paddingInner": 0, "paddingOuter": 0.31, "align": 0.86}, "axis": {"labelAngle": -45, "labelFontSize": 7, "labelExpr": "'F–' + datum.label", "labelPadding": 3}},
             "y": {"field": "v", "type": "quantitative", "title": null, "scale": {"domain": [0, 9.6], "nice": false, "zero": false}, "axis": {"values": [0, 2.5, 5, 7.5], "format": ".1f", "labelFontSize": 7}}
           },
           "layer": [
             {"transform": [{"density": "v", "groupby": ["g"], "bandwidth": 0.3, "steps": 80}],
              "mark": {"type": "tick", "thickness": 1.5, "opacity": 0.9},
              "encoding": {
                "y": {"field": "value", "type": "quantitative", "title": null},
                "xOffset": {"field": "density", "type": "quantitative", "scale": {"domain": [0, 0.9], "range": [0, 7.5], "clamp": true}},
                "size": {"field": "density", "type": "quantitative", "scale": {"domain": [0, 0.9], "range": [0, 15], "clamp": true}, "legend": null},
                "color": {"field": "g", "type": "nominal", "scale": {"domain": ["LHEW", "HHEW", "LHEY", "HHEY"], "range": ["#7fc27d", "#8fd0d2", "#2d9bd8", "#d8599d"]}, "legend": null}}},
             {"transform": [{"window": [{"op": "row_number", "as": "k"}], "groupby": ["g", "v"]}],
              "mark": {"type": "circle", "size": 10, "opacity": 1},
              "encoding": {
                "xOffset": {"field": "k", "type": "quantitative", "scale": {"domain": [1, 10], "range": [-4, -33]}},
                "color": {"field": "g", "type": "nominal", "legend": null}}},
             {"mark": {"type": "boxplot", "extent": "min-max", "size": 5, "color": "#f4f4f4", "box": {"stroke": "#8c8c8c", "strokeWidth": 0.6}, "median": {"color": "#555555", "strokeWidth": 0.8}, "rule": {"color": "#8c8c8c", "strokeWidth": 0.6}}},
             {"data": {"name": "br"}, "transform": [{"filter": "datum.m == 'CSh'"}],
              "mark": {"type": "rule", "color": "#6d6d6d", "strokeWidth": 0.7},
              "encoding": {"x": {"field": "a", "type": "nominal", "title": null}, "x2": {"field": "b"}, "y": {"field": "y", "type": "quantitative", "title": null}}},
             {"data": {"name": "br"}, "transform": [{"filter": "datum.m == 'CSh'"}],
              "mark": {"type": "text", "baseline": "bottom", "dy": -0.5, "fontSize": 6},
              "encoding": {"x": {"field": "a", "type": "nominal", "title": null}, "xOffset": {"field": "s", "type": "quantitative", "scale": {"domain": [0, 3], "range": [0, 53.57]}}, "y": {"field": "y", "type": "quantitative", "title": null}, "text": {"field": "l"}}}
           ],
           "resolve": {"scale": {"xOffset": "independent", "size": "independent"}}}
        ]},
        {"spacing": 0, "resolve": {"scale": {"color": "independent", "size": "independent", "xOffset": "independent"}}, "vconcat": [
          {"width": 165, "height": 8, "view": {"fill": "#cfcfcf", "stroke": null}, "data": {"values": [{}]},
           "mark": {"type": "text", "text": "Simpson Index", "fontSize": 7.5, "fontWeight": "bold", "baseline": "middle", "align": "center"}},
          {"width": 165, "height": 97, "data": {"name": "rc"}, "transform": [{"filter": "datum.m == 'CSi'"}],
           "encoding": {
             "x": {"field": "g", "type": "nominal", "title": null, "scale": {"domain": ["LHEW", "HHEW", "LHEY", "HHEY"], "paddingInner": 0, "paddingOuter": 0.31, "align": 0.86}, "axis": {"labelAngle": -45, "labelFontSize": 7, "labelExpr": "'F–' + datum.label", "labelPadding": 3}},
             "y": {"field": "v", "type": "quantitative", "title": null, "scale": {"domain": [0, 1.56], "nice": false, "zero": false}, "axis": {"values": [0, 0.5, 1, 1.5], "format": ".1f", "labelFontSize": 8}}
           },
           "layer": [
             {"transform": [{"density": "v", "groupby": ["g"], "bandwidth": 0.04, "steps": 80}],
              "mark": {"type": "tick", "thickness": 1.5, "opacity": 0.9},
              "encoding": {
                "y": {"field": "value", "type": "quantitative", "title": null},
                "xOffset": {"field": "density", "type": "quantitative", "scale": {"domain": [0, 10], "range": [0, 7.5], "clamp": true}},
                "size": {"field": "density", "type": "quantitative", "scale": {"domain": [0, 10], "range": [0, 15], "clamp": true}, "legend": null},
                "color": {"field": "g", "type": "nominal", "scale": {"domain": ["LHEW", "HHEW", "LHEY", "HHEY"], "range": ["#7fc27d", "#8fd0d2", "#2d9bd8", "#d8599d"]}, "legend": null}}},
             {"transform": [{"window": [{"op": "row_number", "as": "k"}], "groupby": ["g", "v"]}],
              "mark": {"type": "circle", "size": 7, "opacity": 1},
              "encoding": {
                "xOffset": {"field": "k", "type": "quantitative", "scale": {"domain": [1, 10], "range": [-4, -30]}},
                "color": {"field": "g", "type": "nominal", "legend": null}}},
             {"mark": {"type": "boxplot", "extent": "min-max", "size": 5, "color": "#f4f4f4", "box": {"stroke": "#8c8c8c", "strokeWidth": 0.6}, "median": {"color": "#555555", "strokeWidth": 0.8}, "rule": {"color": "#8c8c8c", "strokeWidth": 0.6}}},
             {"data": {"name": "br"}, "transform": [{"filter": "datum.m == 'CSi'"}],
              "mark": {"type": "rule", "color": "#6d6d6d", "strokeWidth": 0.7},
              "encoding": {"x": {"field": "a", "type": "nominal", "title": null}, "x2": {"field": "b"}, "y": {"field": "y", "type": "quantitative", "title": null}}},
             {"data": {"name": "br"}, "transform": [{"filter": "datum.m == 'CSi'"}],
              "mark": {"type": "text", "baseline": "bottom", "dy": -0.5, "fontSize": 6},
              "encoding": {"x": {"field": "a", "type": "nominal", "title": null}, "xOffset": {"field": "s", "type": "quantitative", "scale": {"domain": [0, 3], "range": [0, 53.57]}}, "y": {"field": "y", "type": "quantitative", "title": null}, "text": {"field": "l"}}}
           ],
           "resolve": {"scale": {"xOffset": "independent", "size": "independent"}}}
        ]},
        {"spacing": 0, "resolve": {"scale": {"color": "independent", "size": "independent", "xOffset": "independent"}}, "vconcat": [
          {"width": 165, "height": 8, "view": {"fill": "#cfcfcf", "stroke": null}, "data": {"values": [{}]},
           "mark": {"type": "text", "text": "Observed_species", "fontSize": 7.5, "fontWeight": "bold", "baseline": "middle", "align": "center"}},
          {"width": 165, "height": 102, "data": {"name": "rc"}, "transform": [{"filter": "datum.m == 'COb'"}],
           "encoding": {
             "x": {"field": "g", "type": "nominal", "title": null, "scale": {"domain": ["LHEW", "HHEW", "LHEY", "HHEY"], "paddingInner": 0, "paddingOuter": 0.31, "align": 0.86}, "axis": {"labelAngle": -45, "labelFontSize": 7, "labelExpr": "'F–' + datum.label", "labelPadding": 3}},
             "y": {"field": "v", "type": "quantitative", "title": null, "scale": {"domain": [0, 3650], "nice": false, "zero": false}, "axis": {"values": [0, 1000, 2000], "format": "d", "labelFontSize": 7}}
           },
           "layer": [
             {"transform": [{"density": "v", "groupby": ["g"], "bandwidth": 130, "steps": 80}],
              "mark": {"type": "tick", "thickness": 1.5, "opacity": 0.9},
              "encoding": {
                "y": {"field": "value", "type": "quantitative", "title": null},
                "xOffset": {"field": "density", "type": "quantitative", "scale": {"domain": [0, 0.0012], "range": [0, 7.5], "clamp": true}},
                "size": {"field": "density", "type": "quantitative", "scale": {"domain": [0, 0.0012], "range": [0, 15], "clamp": true}, "legend": null},
                "color": {"field": "g", "type": "nominal", "scale": {"domain": ["LHEW", "HHEW", "LHEY", "HHEY"], "range": ["#7fc27d", "#8fd0d2", "#2d9bd8", "#d8599d"]}, "legend": null}}},
             {"transform": [{"window": [{"op": "row_number", "as": "k"}], "groupby": ["g", "v"]}],
              "mark": {"type": "circle", "size": 7, "opacity": 1},
              "encoding": {
                "xOffset": {"field": "k", "type": "quantitative", "scale": {"domain": [1, 10], "range": [-4, -30]}},
                "color": {"field": "g", "type": "nominal", "legend": null}}},
             {"mark": {"type": "boxplot", "extent": "min-max", "size": 5, "color": "#f4f4f4", "box": {"stroke": "#8c8c8c", "strokeWidth": 0.6}, "median": {"color": "#555555", "strokeWidth": 0.8}, "rule": {"color": "#8c8c8c", "strokeWidth": 0.6}}},
             {"data": {"name": "br"}, "transform": [{"filter": "datum.m == 'COb'"}],
              "mark": {"type": "rule", "color": "#6d6d6d", "strokeWidth": 0.7},
              "encoding": {"x": {"field": "a", "type": "nominal", "title": null}, "x2": {"field": "b"}, "y": {"field": "y", "type": "quantitative", "title": null}}},
             {"data": {"name": "br"}, "transform": [{"filter": "datum.m == 'COb'"}],
              "mark": {"type": "text", "baseline": "bottom", "dy": -0.5, "fontSize": 6},
              "encoding": {"x": {"field": "a", "type": "nominal", "title": null}, "xOffset": {"field": "s", "type": "quantitative", "scale": {"domain": [0, 3], "range": [0, 53.57]}}, "y": {"field": "y", "type": "quantitative", "title": null}, "text": {"field": "l"}}}
           ],
           "resolve": {"scale": {"xOffset": "independent", "size": "independent"}}}
        ]}
      ]}
    ]},
    {"title": "D", "align": "none", "spacing": 15,
     "resolve": {"scale": {"color": "independent", "size": "independent", "xOffset": "independent"}, "legend": {"color": "independent"}},
     "concat": [
      {"width": 80, "height": 157, "view": {"stroke": null},
       "layer": [
         {"data": {"name": "hl"},
          "mark": {"type": "rect", "stroke": "#ffffff", "strokeWidth": 0.8},
          "encoding": {
            "x": {"field": "s", "type": "nominal", "title": null, "scale": {"domain": ["Phylum", "F-LHEY", "F-HHEY", "F-LHEW", "F-HHEW"], "paddingInner": 0, "paddingOuter": 0},
                  "axis": {"orient": "bottom", "labelAngle": -45, "ticks": false, "labelFontSize": 8, "labelFontWeight": {"condition": {"test": "datum.value === 'Phylum'", "value": "bold"}, "value": "normal"}, "labelPadding": 2}},
            "y": {"field": "t", "type": "nominal", "title": null, "scale": {"domain": ["g__unclassified_Burkholderiaceae", "g__Lactobacillus", "g__Ralstonia", "g__Staphylococcus", "g__Clostridium_sensu_stricto_1", "g__Fusobacterium", "g__unclassified_Rhizobiaceae", "g__Streptococcus", "g__Pseudomonas", "g__unclassified_Chitinophagaceae", "g__Leptotrichia", "g__Enterococcus", "g__Rhodococcus", "g__Muribaculaceae", "g__Burkholderia-Caballeronia-Paraburkholderia", "g__Acinetobacter", "g__Weissella", "g__unclassified_Enterobacteriaceae", "others"], "paddingInner": 0, "paddingOuter": 0},
                  "axis": {"orient": "right", "ticks": false, "labelFontSize": 8.5, "labelFontWeight": "normal", "labelFontStyle": {"condition": {"test": "datum.value === 'others'", "value": "normal"}, "value": "italic"}, "labelLimit": 260, "labelPadding": 3}},
            "color": {"field": "a", "type": "quantitative", "scale": {"domain": [0, 0.57], "range": ["#edebf6", "#ddc9e7", "#c9a2d7", "#9d8ad0", "#5f52b3"]},
                      "legend": {"title": "Relative abundance", "orient": "none", "legendX": 229, "legendY": -12, "direction": "vertical", "gradientLength": 124, "gradientThickness": 8, "values": [0.1, 0.2, 0.3, 0.4, 0.5], "format": ".1f", "labelFontSize": 9, "titleFontSize": 9, "titleFontWeight": "bold", "titleAnchor": "end", "titlePadding": 4, "labelOffset": 4}}
          }},
         {"data": {"name": "pl"},
          "mark": {"type": "rect", "width": {"band": 0.6}},
          "encoding": {
            "x": {"datum": "Phylum", "type": "nominal"},
            "y": {"field": "t", "type": "nominal"},
            "color": {"field": "p", "type": "nominal", "scale": {"domain": ["Proteobacteria", "Firmicutes", "Fusobacteria", "Actinobacteria", "Bacteroidetes", "unclassified_Bacteria", "Epsilonbacteraeota", "Chloroflexi", "others"], "range": ["#e5262a", "#2cb5b6", "#4cae3f", "#6a1b8a", "#e4c9e4", "#f07f22", "#f6c799", "#f6bcc6", "#9dc3ea"]}, "legend": null}
          }}
       ],
       "resolve": {"scale": {"color": "independent"}, "legend": {"color": "independent"}}},
      {"width": 67, "height": 158, "view": {"stroke": null},
       "layer": [
         {"data": {"name": "hr"},
          "mark": {"type": "rect", "stroke": "#ffffff", "strokeWidth": 0.8},
          "encoding": {
            "x": {"field": "s", "type": "nominal", "title": null, "scale": {"domain": ["Phylum", "ED12-LHEW", "ED12-HHEW", "ED12-LHEY", "ED12-HHEY"], "paddingInner": 0, "paddingOuter": 0},
                  "axis": {"orient": "bottom", "labelAngle": -45, "ticks": false, "labelFontSize": 7.5, "labelFontWeight": {"condition": {"test": "datum.value === 'Phylum'", "value": "bold"}, "value": "normal"}, "labelPadding": 2}},
            "y": {"field": "t", "type": "nominal", "title": null, "scale": {"domain": ["g__Pseudomonas", "g__Rhodococcus", "g__Lactobacillus", "g__unclassified_Bacteria", "g__Endozoicomonas", "g__Vibrio", "g__Acinetobacter", "g__unclassified_Burkholderiaceae", "g__Arcobacter", "g__Weissella", "g__Muribaculaceae", "g__Sphingomonas", "g__Ralstonia", "g__Staphylococcus", "g__Enterococcus", "g__Clostridium_sensu_stricto_1", "g__AD3", "g__Streptococcus", "g__Fusobacterium", "g__Leptotrichia", "others"], "paddingInner": 0, "paddingOuter": 0},
                  "axis": {"orient": "right", "ticks": false, "labelFontSize": 8, "labelFontWeight": "normal", "labelFontStyle": {"condition": {"test": "datum.value === 'others'", "value": "normal"}, "value": "italic"}, "labelLimit": 260, "labelPadding": 3}},
            "color": {"field": "a", "type": "quantitative", "scale": {"domain": [0, 0.69], "range": ["#edebf6", "#ddc9e7", "#c9a2d7", "#9d8ad0", "#5f52b3"]},
                      "legend": {"title": "Relative abundance", "orient": "none", "legendX": 182, "legendY": -12, "direction": "vertical", "gradientLength": 112, "gradientThickness": 7, "values": [0.1, 0.2, 0.3, 0.4, 0.5, 0.6], "format": ".1f", "labelFontSize": 9, "titleFontSize": 9, "titleFontWeight": "bold", "titlePadding": 4, "labelOffset": 4}}
          }},
         {"data": {"name": "pr"},
          "mark": {"type": "rect", "width": {"band": 0.5}},
          "encoding": {
            "x": {"datum": "Phylum", "type": "nominal"},
            "y": {"field": "t", "type": "nominal"},
            "color": {"field": "p", "type": "nominal", "scale": {"domain": ["Proteobacteria", "Firmicutes", "Fusobacteria", "Actinobacteria", "Bacteroidetes", "unclassified_Bacteria", "Epsilonbacteraeota", "Chloroflexi", "others"], "range": ["#e5262a", "#2cb5b6", "#4cae3f", "#6a1b8a", "#e4c9e4", "#f07f22", "#f6c799", "#f6bcc6", "#9dc3ea"]},
                      "legend": {"title": "Phylum", "orient": "none", "legendX": 266, "legendY": -12, "symbolType": "square", "symbolSize": 100, "symbolStrokeWidth": 0, "symbolOpacity": 1, "labelFontSize": 8, "titleFontSize": 9.5, "titleFontWeight": "bold", "rowPadding": 0.7, "titlePadding": 3}}
          }}
       ],
       "resolve": {"scale": {"color": "independent"}, "legend": {"color": "independent"}}}
    ]}
  ]
}
